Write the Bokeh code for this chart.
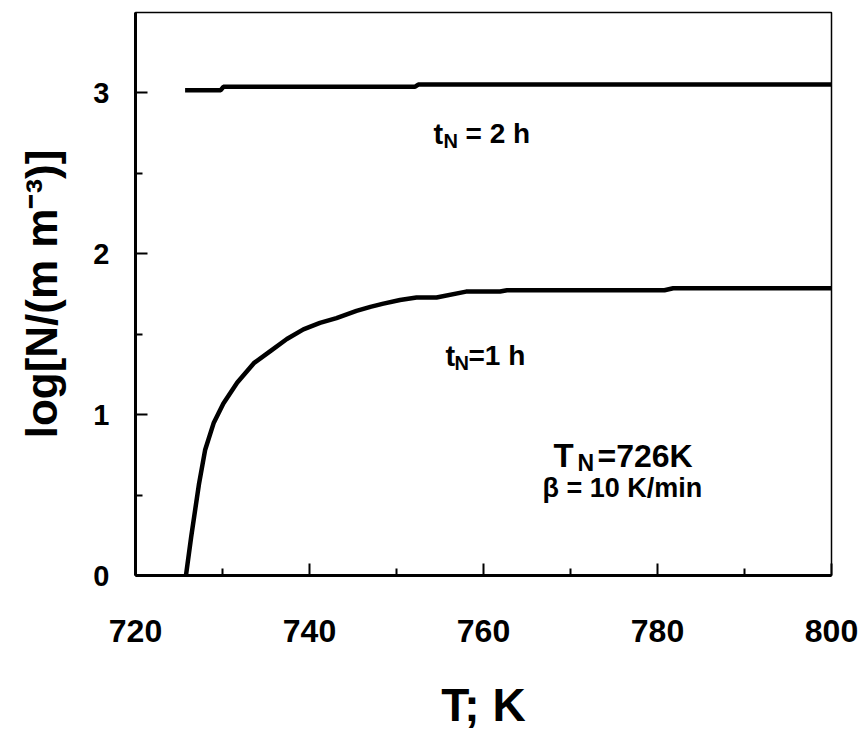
from bokeh.plotting import figure
from bokeh.models import Label, FixedTicker, Range1d
from bokeh.embed import file_html
from bokeh.resources import INLINE

# ---- data ----
T_1h = [725.8, 726.4, 727.3, 728.0, 729.0, 730.1, 731.7, 733.6, 735.5, 737.4, 739.3,
        741.2, 743.1, 745.4, 747.0, 748.5, 750.4, 752.3, 754.6, 758.0, 761.9, 762.7,
        780.8, 781.8, 800.0]
N_1h = [0.0, 0.24, 0.57, 0.78, 0.95, 1.07, 1.20, 1.32, 1.395, 1.47, 1.53,
        1.57, 1.60, 1.645, 1.67, 1.69, 1.713, 1.728, 1.728, 1.765, 1.765, 1.773,
        1.773, 1.786, 1.786]
T_2h = [725.7, 729.8, 730.1, 752.1, 752.5, 800.0]
N_2h = [3.017, 3.017, 3.038, 3.038, 3.052, 3.052]

x_ticks = [720, 740, 760, 780, 800]
x_minor = [730, 750, 770, 790]
y_ticks = [0, 1, 2, 3]
y_minor = [0.5, 1.5, 2.5]

BOLD = "Liberation Sans"

p = figure(width=861, height=733, output_backend="svg", toolbar_location=None,
           x_range=Range1d(720, 800), y_range=Range1d(0, 3.5),
           min_border_left=135, min_border_right=30, min_border_top=12, min_border_bottom=158)
p.background_fill_color = "white"
p.border_fill_color = "white"
p.outline_line_color = "black"
p.outline_line_width = 1.5
p.grid.visible = False

for ax in (p.xaxis, p.yaxis):
    ax.axis_line_width = 3
    ax.axis_line_color = "black"
    ax.major_tick_in = 12
    ax.major_tick_out = 0
    ax.minor_tick_in = 7
    ax.minor_tick_out = 0
    ax.major_tick_line_width = 2
    ax.minor_tick_line_width = 2
    ax.major_tick_line_color = "black"
    ax.minor_tick_line_color = "black"
    ax.major_label_text_font = BOLD
    ax.major_label_text_font_style = "bold"
    ax.major_label_text_color = "black"
    ax.axis_label_text_font = BOLD
    ax.axis_label_text_font_style = "bold"
    ax.axis_label_text_color = "black"

p.xaxis.ticker = FixedTicker(ticks=x_ticks, minor_ticks=x_minor)
p.yaxis.ticker = FixedTicker(ticks=y_ticks, minor_ticks=y_minor)
p.xaxis.major_label_text_font_size = "32px"
p.yaxis.major_label_text_font_size = "29px"
p.xaxis.major_label_standoff = 44
p.yaxis.major_label_standoff = 26

p.xaxis.axis_label = "T; K"
p.xaxis.axis_label_text_font_size = "46px"
p.xaxis.axis_label_standoff = 34
p.yaxis.axis_label = "log[N/(m m\u207b\u00b3)]"
p.yaxis.axis_label_text_font_size = "44px"
p.yaxis.axis_label_standoff = 24

p.line(T_1h, N_1h, line_color="black", line_width=4.5)
p.line(T_2h, N_2h, line_color="black", line_width=4.5)

FL, FB = 135, 575


def put(txt, px, py, size, font=BOLD, angle=0.0):
    p.add_layout(Label(x=px - FL, y=FB - py, x_units="screen", y_units="screen",
                       text=txt, text_font=font, text_font_size=f"{size}px",
                       text_font_style="bold", text_color="black", angle=angle,
                       text_align="left", text_baseline="alphabetic"))


# t_N = 2 h
put("t", 433, 133, 29)
put("N", 443, 140, 20)
put("= 2 h", 465, 133, 28)
# t_N=1 h
put("t", 445, 355, 29)
put("N", 454, 362, 20)
put("=1 h", 468, 355, 28)
# T_N=726K
put("T", 553, 455, 33)
put("N", 577, 462, 23)
put("=726K", 597, 455, 32)
# beta
put("\u03b2 = 10 K/min", 542, 487, 27)

open("out.html", "w").write(file_html(p, INLINE))
